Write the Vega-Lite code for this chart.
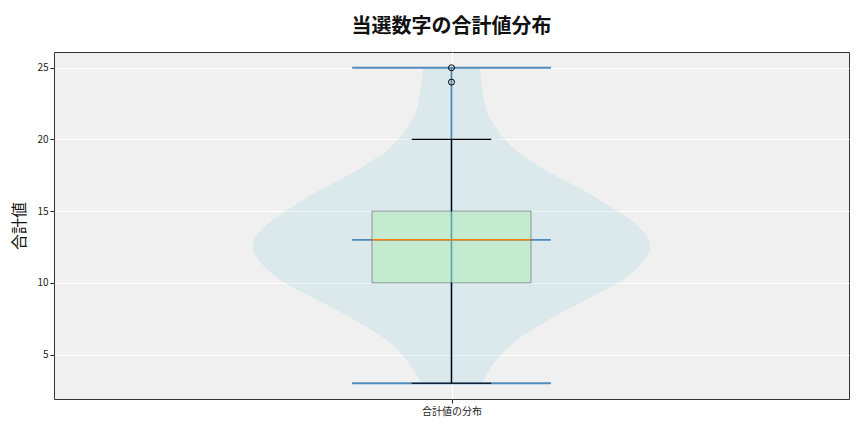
{
  "$schema": "https://vega.github.io/schema/vega-lite/v6.json",
  "autosize": {"type": "none"},
  "padding": {"left": 54, "top": 52, "right": 15, "bottom": 33},
  "width": 795,
  "height": 347,
  "background": "white",
  "title": {
    "text": "当選数字の合計値分布",
    "font": "Noto Sans CJK JP",
    "fontSize": 20,
    "fontWeight": "bold",
    "color": "#111",
    "anchor": "middle",
    "offset": 15
  },
  "config": {
    "view": {"fill": "#f0f0f0", "stroke": "#333", "strokeWidth": 1},
    "font": "Noto Sans CJK JP",
    "axis": {
      "domain": false,
      "grid": true,
      "gridColor": "white",
      "gridWidth": 1,
      "tickColor": "#222",
      "tickSize": 4,
      "labelFont": "Noto Sans CJK JP",
      "labelFontSize": 10,
      "labelColor": "#222",
      "titleFont": "Noto Sans CJK JP",
      "titleColor": "#111"
    }
  },
  "datasets": {
    "violin": [
      {"v": 3.0, "lo": 0.925, "hi": 1.075},
      {"v": 3.4, "lo": 0.916, "hi": 1.084},
      {"v": 4.3, "lo": 0.896, "hi": 1.104},
      {"v": 5.2, "lo": 0.869, "hi": 1.131},
      {"v": 5.7, "lo": 0.850, "hi": 1.150},
      {"v": 6.2, "lo": 0.826, "hi": 1.174},
      {"v": 6.6, "lo": 0.804, "hi": 1.196},
      {"v": 7.1, "lo": 0.776, "hi": 1.224},
      {"v": 8.0, "lo": 0.718, "hi": 1.282},
      {"v": 9.0, "lo": 0.650, "hi": 1.350},
      {"v": 9.9, "lo": 0.587, "hi": 1.413},
      {"v": 10.8, "lo": 0.542, "hi": 1.458},
      {"v": 11.7, "lo": 0.512, "hi": 1.488},
      {"v": 12.4, "lo": 0.500, "hi": 1.500},
      {"v": 13.0, "lo": 0.503, "hi": 1.497},
      {"v": 13.7, "lo": 0.522, "hi": 1.478},
      {"v": 14.4, "lo": 0.550, "hi": 1.450},
      {"v": 15.3, "lo": 0.600, "hi": 1.400},
      {"v": 16.3, "lo": 0.658, "hi": 1.342},
      {"v": 17.2, "lo": 0.720, "hi": 1.280},
      {"v": 18.1, "lo": 0.778, "hi": 1.222},
      {"v": 18.6, "lo": 0.805, "hi": 1.195},
      {"v": 19.0, "lo": 0.828, "hi": 1.172},
      {"v": 19.5, "lo": 0.848, "hi": 1.152},
      {"v": 20.0, "lo": 0.866, "hi": 1.134},
      {"v": 20.4, "lo": 0.878, "hi": 1.122},
      {"v": 20.9, "lo": 0.890, "hi": 1.110},
      {"v": 21.6, "lo": 0.906, "hi": 1.094},
      {"v": 22.5, "lo": 0.916, "hi": 1.084},
      {"v": 23.5, "lo": 0.922, "hi": 1.078},
      {"v": 25.0, "lo": 0.929, "hi": 1.071}
    ],
    "stats": [
      {"pos": 1, "min": 3, "max": 25, "q1": 10, "median": 13, "q3": 15}
    ],
    "marks": [
      {"kind": "min", "v": 3},
      {"kind": "median", "v": 13},
      {"kind": "max", "v": 25}
    ],
    "whiskers": [
      {"from": 3, "to": 10},
      {"from": 15, "to": 20}
    ],
    "caps": [
      {"v": 3},
      {"v": 20}
    ],
    "outliers": [
      {"v": 24},
      {"v": 25}
    ]
  },
  "encoding": {
    "y": {
      "type": "quantitative",
      "scale": {"domain": [1.9, 26.1], "nice": false, "zero": false},
      "axis": {
        "values": [5, 10, 15, 20, 25],
        "title": "合計値",
        "titleFontSize": 16,
        "titleFontWeight": "normal",
        "titlePadding": 9
      }
    }
  },
  "layer": [
    {
      "data": {"name": "violin"},
      "mark": {"type": "area", "orient": "horizontal", "interpolate": "monotone", "fill": "lightblue", "fillOpacity": 0.3},
      "encoding": {
        "y": {"field": "v", "type": "quantitative"},
        "x": {
          "field": "lo",
          "type": "quantitative",
          "scale": {"domain": [0, 2], "nice": false, "zero": false},
          "axis": {"values": [1], "labelExpr": "'合計値の分布'", "title": null, "labelPadding": 3}
        },
        "x2": {"field": "hi"}
      }
    },
    {
      "data": {"name": "stats"},
      "mark": {"type": "rule", "color": "#3f7fb3", "strokeWidth": 1.8, "opacity": 0.9},
      "encoding": {
        "x": {"field": "pos", "type": "quantitative"},
        "y": {"field": "min", "type": "quantitative"},
        "y2": {"field": "max"}
      }
    },
    {
      "data": {"name": "marks"},
      "mark": {"type": "rule", "color": "#3f7fb3", "strokeWidth": 1.8, "opacity": 0.9},
      "encoding": {
        "y": {"field": "v", "type": "quantitative"},
        "x": {"datum": 0.75},
        "x2": {"datum": 1.25}
      }
    },
    {
      "data": {"name": "stats"},
      "mark": {"type": "rect", "fill": "lightgreen", "fillOpacity": 0.3, "stroke": "#000", "strokeOpacity": 0.35, "strokeWidth": 1},
      "encoding": {
        "y": {"field": "q1", "type": "quantitative"},
        "y2": {"field": "q3"},
        "x": {"datum": 0.8},
        "x2": {"datum": 1.2}
      }
    },
    {
      "data": {"name": "stats"},
      "mark": {"type": "rule", "color": "#ff7f0e", "strokeWidth": 1.5},
      "encoding": {
        "y": {"field": "median", "type": "quantitative"},
        "x": {"datum": 0.8},
        "x2": {"datum": 1.2}
      }
    },
    {
      "data": {"name": "whiskers"},
      "mark": {"type": "rule", "color": "#000", "strokeWidth": 1.2},
      "encoding": {
        "y": {"field": "from", "type": "quantitative"},
        "y2": {"field": "to"},
        "x": {"datum": 1}
      }
    },
    {
      "data": {"name": "caps"},
      "mark": {"type": "rule", "color": "#000", "strokeWidth": 1.2},
      "encoding": {
        "y": {"field": "v", "type": "quantitative"},
        "x": {"datum": 0.9},
        "x2": {"datum": 1.1}
      }
    },
    {
      "data": {"name": "outliers"},
      "mark": {"type": "point", "filled": false, "stroke": "#000", "strokeWidth": 1, "size": 36, "opacity": 1},
      "encoding": {
        "y": {"field": "v", "type": "quantitative"},
        "x": {"datum": 1}
      }
    }
  ]
}
